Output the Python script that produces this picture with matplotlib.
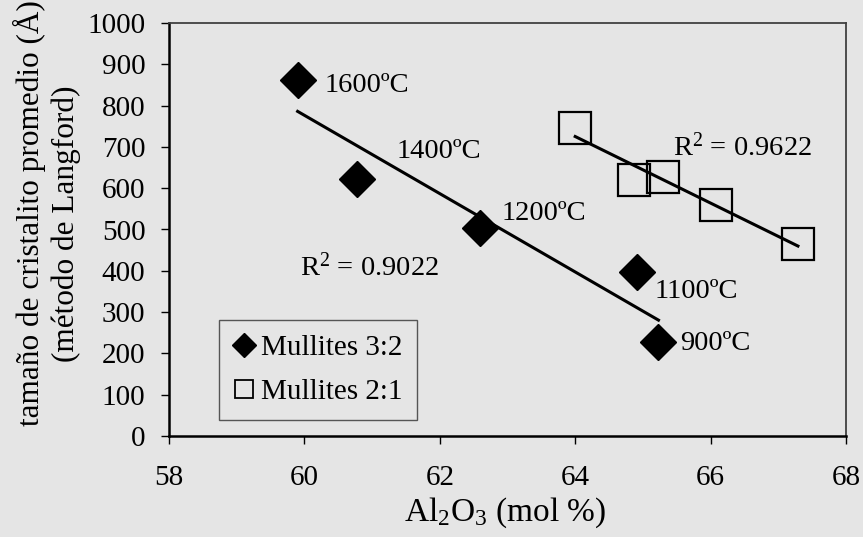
import numpy as np
import matplotlib
matplotlib.use('Agg')
import matplotlib.pyplot as plt
from matplotlib.lines import Line2D

plt.rcParams['font.family'] = ['Liberation Serif', 'DejaVu Serif']
plt.rcParams['mathtext.fontset'] = 'custom'
plt.rcParams['mathtext.rm'] = 'Liberation Serif'
plt.rcParams['mathtext.it'] = 'Liberation Serif:italic'

bg = '#e5e5e5'

# Mullites 3:2 (filled diamonds)
al_32 = [59.90, 60.78, 62.59, 64.91, 65.23]
size_32 = [862, 622, 503, 396, 228]
temps_32 = ['1600ºC', '1400ºC', '1200ºC', '1100ºC', '900ºC']

# Mullites 2:1 (open squares)
al_21 = [64.00, 64.87, 65.30, 66.08, 67.29]
size_21 = [746, 620, 627, 560, 465]

r2_32 = 'R$^2$ = 0.9022'
r2_21 = 'R$^2$ = 0.9622'

fig = plt.figure(figsize=(8.63, 5.37), dpi=100, facecolor=bg)
ax = fig.add_axes([169/863, 1-436/537, (846-169)/863, (436-23)/537])
ax.set_facecolor(bg)

# trend lines (least squares over each series)
p = np.polyfit(al_32, size_32, 1)
xs = np.array([min(al_32), max(al_32)])
ax.plot(xs, np.polyval(p, xs), color='black', lw=2.2, zorder=2)
p = np.polyfit(al_21, size_21, 1)
xs = np.array([min(al_21), max(al_21)])
ax.plot(xs, np.polyval(p, xs), color='black', lw=2.2, zorder=2)

ax.plot(al_32, size_32, 'D', ms=18, color='black', zorder=3)
ax.plot(al_21, size_21, 's', ms=22.5, mfc='none', mec='black', mew=1.6, zorder=3)

fs = 21
ax.set_xlim(58, 68)
ax.set_ylim(0, 1000)
ax.set_xticks(range(58, 69, 2))
ax.set_yticks(range(0, 1001, 100))
ax.tick_params(direction='out', length=6, width=1, labelsize=fs, colors='black')
ax.tick_params(axis='y', pad=11)
ax.tick_params(axis='x', pad=15)
for s in ['left', 'bottom']:
    ax.spines[s].set_linewidth(1.8)
    ax.spines[s].set_color('black')
for s in ['top', 'right']:
    ax.spines[s].set_linewidth(1.3)
    ax.spines[s].set_color('#404040')

# temperature labels (pixel positions from left, vertical centre)
lab_pos = [(325, 86), (397, 152), (502, 213), (655, 292), (680, 343)]
for t, (px, py) in zip(temps_32, lab_pos):
    fig.text(px/863, 1-py/537, t, fontsize=20.5, ha='left', va='center')
fig.text(300/863, 1-267/537, r2_32, fontsize=20.5, ha='left', va='center')
fig.text(673/863, 1-147/537, r2_21, fontsize=20.5, ha='left', va='center')

fig.text(505/863, 1-513/537, 'Al$_2$O$_3$ (mol %)', fontsize=24, ha='center', va='center')
fig.text(29/863, 1-426/537, 'tamaño de cristalito promedio (Å)', fontsize=22.5,
         rotation=90, ha='center', va='bottom')
fig.text(66/863, 1-362/537, '(método de Langford)', fontsize=22.5,
         rotation=90, ha='center', va='bottom')

handles = [Line2D([], [], ls='none', marker='D', ms=12, color='black'),
           Line2D([], [], ls='none', marker='s', ms=13, mfc='none', mec='black', mew=1.3)]
leg = fig.legend(handles, ['Mullites 3:2', 'Mullites 2:1'], loc='upper left',
                 bbox_to_anchor=(219/863, 1-320/537), fontsize=21, frameon=True,
                 fancybox=False, edgecolor='#555555', facecolor=bg, framealpha=1,
                 handlelength=0.7, handletextpad=0.25, borderpad=0.5,
                 labelspacing=0.6, borderaxespad=0)
leg.get_frame().set_linewidth(1.0)

fig.savefig('out.png', dpi=100, facecolor=bg)
